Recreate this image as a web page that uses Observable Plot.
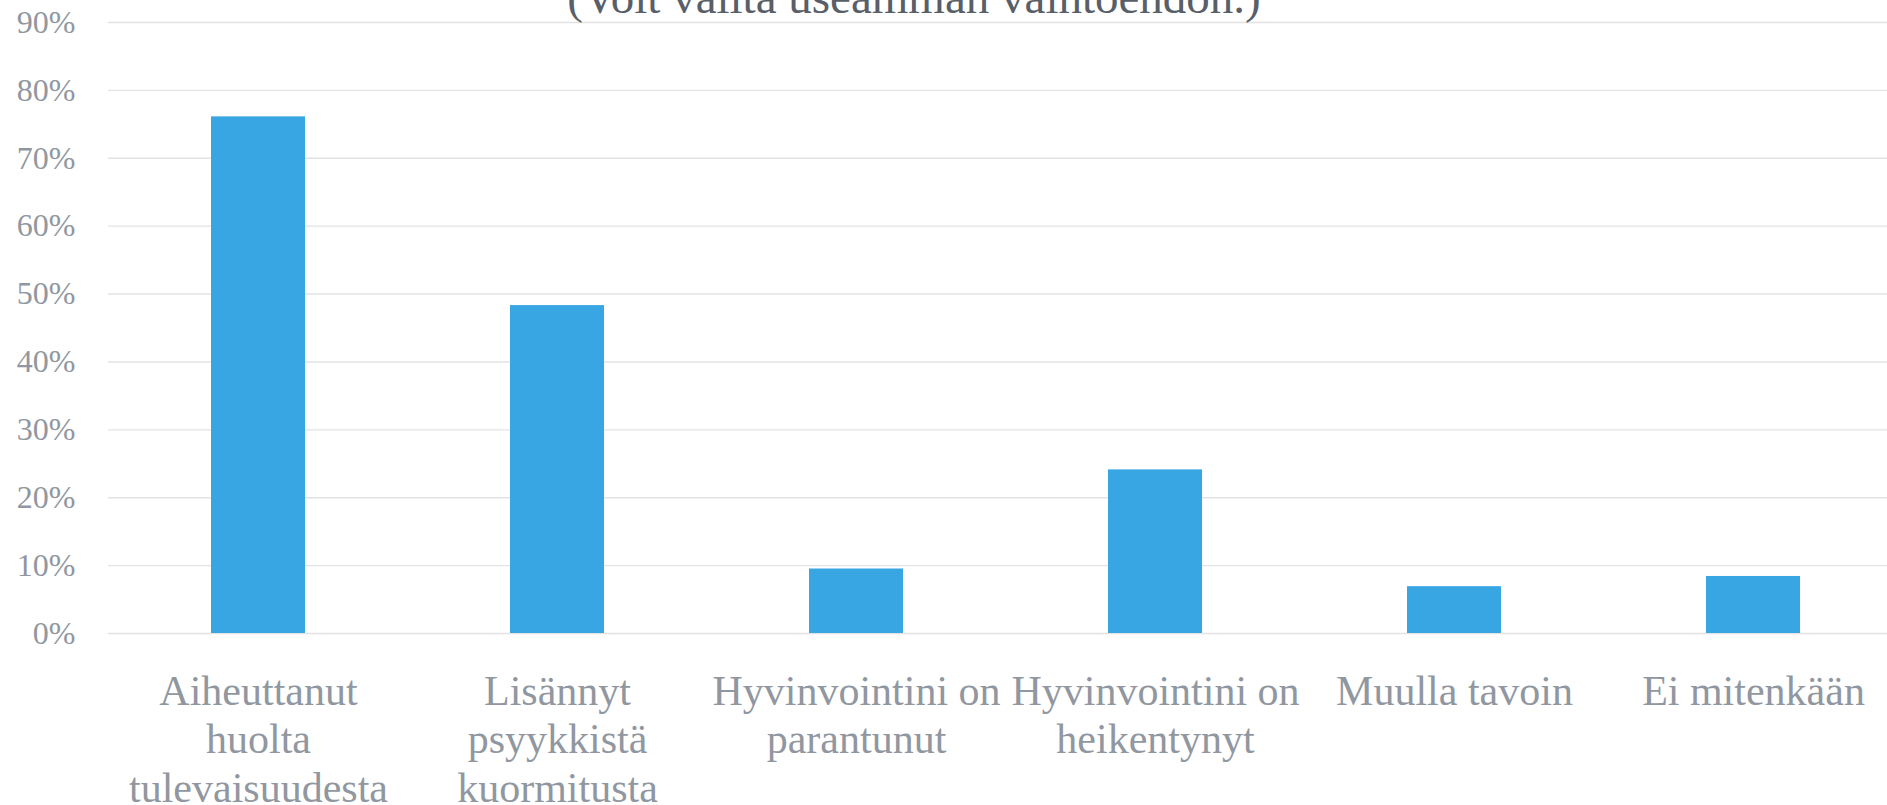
<!DOCTYPE html>
<html>
<head>
<meta charset="utf-8">
<script src="https://cdn.jsdelivr.net/npm/d3@7"></script>
<script src="https://cdn.jsdelivr.net/npm/@observablehq/plot@0.6"></script>
<style>
  html, body { margin: 0; padding: 0; background: #fff; overflow: hidden; }
  #wrap { position: relative; width: 1887px; height: 805px; }
  #title {
    position: absolute; left: 914px; top: -26px; transform: translateX(-50%);
    font-family: "Liberation Serif", serif; font-size: 47px; line-height: 47px;
    color: #595f68; white-space: nowrap; z-index: 2;
  }
  #chart { position: absolute; left: 0; top: 0; }
</style>
</head>
<body>
<div id="wrap">
  <div id="title">(Voit valita useamman vaihtoehdon.)</div>
  <div id="chart"></div>
</div>
<script>
const categories = [
  "Aiheuttanut\nhuolta\ntulevaisuudesta",
  "Lisännyt\npsyykkistä\nkuormitusta",
  "Hyvinvointini on\nparantunut",
  "Hyvinvointini on\nheikentynyt",
  "Muulla tavoin",
  "Ei mitenkään"
];
const values = [76.1, 48.3, 9.5, 24.1, 6.9, 8.4];
const yTicks = [0, 10, 20, 30, 40, 50, 60, 70, 80, 90];

const data = categories.map((c, i) => ({category: c, value: values[i]}));

const chart = Plot.plot({
  width: 1887,
  height: 805,
  marginLeft: 108,
  marginRight: 0,
  marginTop: 22,
  marginBottom: 172,
  style: {fontFamily: "Liberation Serif, serif", background: "transparent"},
  x: {domain: categories, range: [108, 1903], paddingInner: 0.686, paddingOuter: 0.343},
  y: {domain: [0, 90]},
  marks: [
    Plot.ruleY(yTicks, {stroke: "#e3e3e3", strokeWidth: 1.4, strokeOpacity: 1}),
    Plot.barY(data, {x: "category", y: "value", fill: "#38a6e3"}),
    Plot.axisY(yTicks, {
      tickSize: 0, tickPadding: 33, tickFormat: d => d + "%",
      fontSize: 32, fill: "#9197a0", label: null
    }),
    Plot.axisX({
      tickSize: 0, tickPadding: 37, fontSize: 42, lineHeight: 1.155,
      fill: "#9197a0", label: null, textOverflow: null
    })
  ]
});
document.getElementById("chart").appendChild(chart);
</script>
</body>
</html>
